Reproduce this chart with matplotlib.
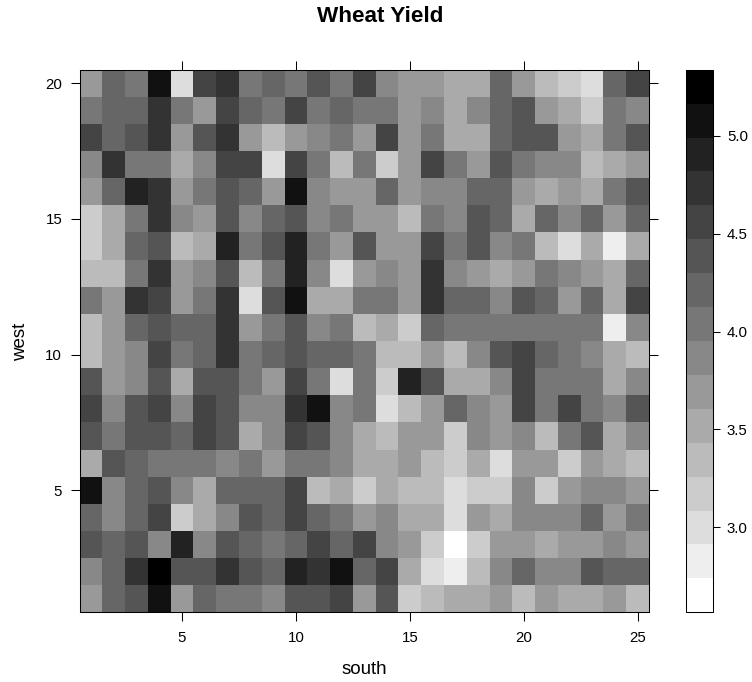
#!/usr/bin/python

import numpy as np
import matplotlib
matplotlib.use('Agg')
import matplotlib.pyplot as plt
from matplotlib.colors import ListedColormap, BoundaryNorm

plt.rcParams['font.family'] = ['Liberation Sans', 'DejaVu Sans']

# grey shade of each plot, f = white, 0 = black
# first line is west = 20, last line is west = 1, south runs 1 to 25
shades = [
    '9671d43767574899aa69bcd64',
    '7663794674767798a8659ac78',
    '46539539b9879497aa6559a75',
    '8377a844d47b7c94795788ba9',
    '96239756918996988669a9a75',
    'ca738958658799b7856a68696',
    'ca65ba27527959947587bdaea',
    'bb73985b728d989389a9789a6',
    '7934973d51aa77936685696a4',
    'b96566397587bac67777777e8',
    'b984763765667bb9b854678ab',
    '5985a557947d7c25aa84777a8',
    '4854845883187db9689474785',
    '5755645a8458ab99c898b75a8',
    'a56777879778aa9bcad99c9ab',
    '18658a6664bacabbdcc8c9889',
    '6864ca85646798aad9a888697',
    '565828567646489cfc99a9989',
    '86305535623164adeb8688566',
    '96519677855495cbaa9b9aa9b',
]

# colour key runs from 2.566 to 5.337 in 16 bands
key_low, key_high = 2.566, 5.337
nband = 16
key_ticks = [3.0, 3.5, 4.0, 4.5, 5.0]
x_ticks = [5, 10, 15, 20, 25]
y_ticks = [5, 10, 15, 20]

edges = np.linspace(key_low, key_high, nband + 1)
step = edges[1] - edges[0]
wheat = np.array([[key_low + (nband - 1 - int(c, 16) + 0.5) * step for c in row] for row in shades[::-1]])

greys = ['#%02x%02x%02x' % (v, v, v) for v in range(255, -1, -17)]
cm = ListedColormap(greys)
norm = BoundaryNorm(edges, nband)

W, H = 752, 682
fig = plt.figure(figsize=(W / 100, H / 100), dpi=100)


def box(x0, x1, y0, y1):
    return [x0 / W, 1 - y1 / H, (x1 - x0) / W, (y1 - y0) / H]


ax = fig.add_axes(box(79.5, 649, 69.7, 612.3))
mesh = ax.pcolormesh(np.arange(0.5, 26), np.arange(0.5, 21), wheat, cmap=cm, norm=norm)
ax.set_xlim(0.5, 25.5)
ax.set_ylim(0.5, 20.5)
ax.set_xticks(x_ticks)
ax.set_yticks(y_ticks)
ax.tick_params(direction='out', length=6.5, width=0.75, labelsize=10.8, top=True, right=True)
ax.tick_params(axis='x', pad=7)
ax.tick_params(axis='y', pad=6)
for s in ax.spines.values():
    s.set_linewidth(0.75)

cax = fig.add_axes(box(685.5, 713.3, 69.7, 612.3))
cb = fig.colorbar(mesh, cax=cax, ticks=key_ticks, drawedges=False)
cb.ax.minorticks_off()
cb.ax.set_yticklabels(['%.1f' % t for t in key_ticks])
cb.ax.tick_params(direction='out', length=5.3, width=0.75, labelsize=10.8, pad=4.5)
cb.outline.set_linewidth(0.75)

fig.text(380 / W, 1 - 17 / H, 'Wheat Yield', fontsize=16.2, fontweight='bold', ha='center', va='center')
fig.text(364 / W, 1 - 670 / H, 'south', fontsize=13.5, ha='center', va='center')
fig.text(21 / W, 1 - 341.5 / H, 'west', fontsize=13.5, rotation=90, ha='center', va='center')

plt.savefig('out.png', dpi=100)
